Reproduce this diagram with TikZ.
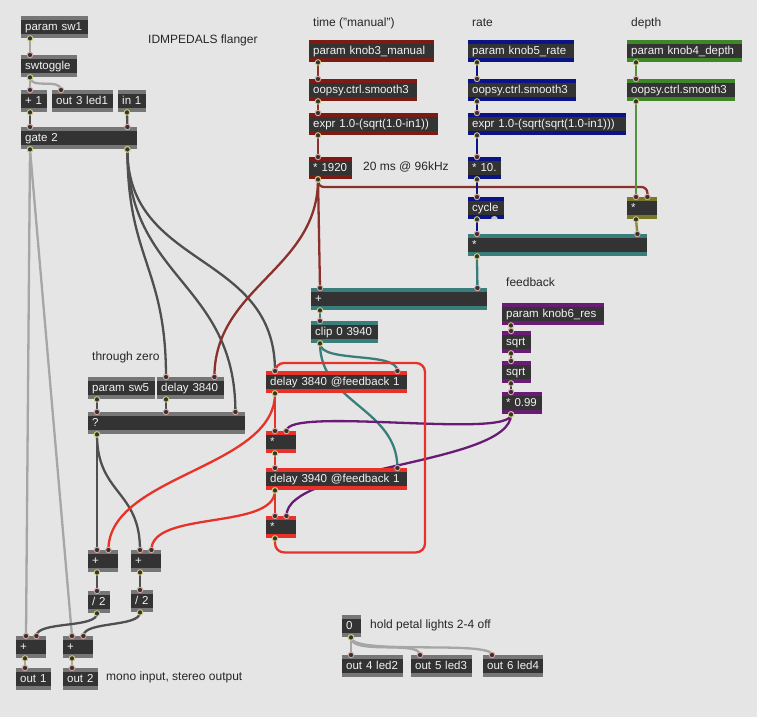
\documentclass[tikz,border=0pt]{standalone}
\usepackage{fontspec}
\setmainfont{Liberation Sans}
\usetikzlibrary{calc}
\definecolor{patchbg}{HTML}{E5E5E5}
\definecolor{body}{HTML}{333333}
\definecolor{bandgray}{HTML}{767676}
\definecolor{dred}{RGB}{125,26,20}
\definecolor{dblue}{RGB}{10,20,135}
\definecolor{dgreen}{RGB}{62,135,40}
\definecolor{dolive}{RGB}{122,120,36}
\definecolor{dteal}{RGB}{58,126,123}
\definecolor{dpurple}{RGB}{105,27,118}
\definecolor{fbred}{RGB}{230,50,40}
\definecolor{ctlcord}{HTML}{A6A6A6}
\definecolor{sigcord}{HTML}{4F4F4F}
\definecolor{inport}{HTML}{D9A3A0}
\definecolor{outport}{HTML}{CFCB7A}
\definecolor{labc}{HTML}{262626}
\pgfdeclarelayer{bg}
\pgfsetlayers{bg,main}
\newcommand{\objfont}{\fontsize{11.5}{13}\selectfont}
\newcommand{\lblfont}{\fontsize{12}{14}\selectfont}
% patch cord: line under the boxes, port rings on top
\newcommand{\cord}[4][ctl]{%
  \begin{pgfonlayer}{bg}\draw[#1] (#2) #4 (#3);\end{pgfonlayer}
  \node[outp] at (#2) {};
  \node[inp] at (#3) {};}

\begin{document}
\begin{tikzpicture}[x=1pt, y=-1pt,
  obj/.style={anchor=north west, fill=body, text=white!95!black, font=\objfont,
              minimum height=22pt, inner ysep=0pt, inner xsep=4pt, align=left,
              text width=#1pt-8pt, text height=8.5pt, text depth=2.5pt,
              execute at begin node=\hbox to 0pt\bgroup,
              execute at end node=\hss\egroup},
  band/.style={path picture={
      \fill[#1] (path picture bounding box.north west) rectangle
                ([yshift=-4pt]path picture bounding box.north east);
      \fill[#1] (path picture bounding box.south west) rectangle
                ([yshift=4pt]path picture bounding box.south east);}},
  gobj/.style={obj=#1, band=bandgray},
  robj/.style={obj=#1, band=dred},
  bobj/.style={obj=#1, band=dblue},
  grobj/.style={obj=#1, band=dgreen},
  oobj/.style={obj=#1, band=dolive},
  tobj/.style={obj=#1, band=dteal},
  pobj/.style={obj=#1, band=dpurple},
  fobj/.style={obj=#1, band=fbred},
  lbl/.style={anchor=west, text=labc, font=\lblfont, inner sep=0pt},
  ctl/.style={draw=ctlcord, line width=2.3pt},
  sig/.style={draw=sigcord, line width=2.3pt},
  rc/.style={draw=dred!90!white, line width=2.3pt},
  bc/.style={draw=dblue, line width=2.3pt},
  gc/.style={draw=dgreen!90!white, line width=2.3pt},
  oc/.style={draw=dolive!90!white, line width=2.3pt},
  tc/.style={draw=dteal, line width=2.3pt},
  pc/.style={draw=dpurple, line width=2.3pt},
  fc/.style={draw=fbred, line width=2.3pt},
  inp/.style={circle, draw=inport, fill=body, line width=0.9pt,
              minimum size=5.5pt, inner sep=0pt},
  outp/.style={inp, draw=outport},
]
\useasboundingbox (0,0) rectangle (757,717);
\begin{pgfonlayer}{bg}
  \fill[patchbg] (0,0) rectangle (757,717);
\end{pgfonlayer}

% comments
\node[lbl] (title) at (148,40)  {IDMPEDALS flanger};
\node[lbl] (ltime) at (313,23)  {time ("manual")};
\node[lbl] (lrate) at (472,23)  {rate};
\node[lbl] (ldep)  at (631,23)  {depth};
\node[lbl] (lms)   at (363,167) {20 ms @ 96kHz};
\node[lbl] (lfb)   at (506,282) {feedback};
\node[lbl] (ltz)   at (92,357)  {through zero};
\node[lbl] (lout)  at (106,677) {mono input, stereo output};
\node[lbl] (lhold) at (370,625) {hold petal lights 2-4 off};

% input and switch
\node[gobj=67]  (sw1)  at (21,16)  {param sw1};
\node[gobj=56]  (tog)  at (21,55)  {swtoggle};
\node[gobj=26]  (inc)  at (21,90)  {+ 1};
\node[gobj=61]  (led1) at (52,90)  {out 3 led1};
\node[gobj=28]  (in1)  at (118,90) {in 1};
\node[gobj=116] (gate) at (21,127) {gate 2};

% through zero
\node[gobj=67]  (sw5)  at (88,377)  {param sw5};
\node[gobj=67]  (dl)   at (157,377) {delay 3840};
\node[gobj=157] (qq)   at (88,412)  {?};
\node[gobj=30]  (addA) at (88,550)  {+};
\node[gobj=30]  (addB) at (131,550) {+};
\node[gobj=22]  (divA) at (88,591)  {/ 2};
\node[gobj=22]  (divB) at (131,590) {/ 2};
\node[gobj=30]  (addC) at (16,636)  {+};
\node[gobj=30]  (addD) at (63,636)  {+};
\node[gobj=35]  (out1) at (16,668)  {out 1};
\node[gobj=35]  (out2) at (63,668)  {out 2};

% petal lights
\node[gobj=19] (zero) at (342,615) {0};
\node[gobj=61] (led2) at (342,655) {out 4 led2};
\node[gobj=61] (led3) at (411,655) {out 5 led3};
\node[gobj=60] (led4) at (483,655) {out 6 led4};

% manual
\node[robj=125] (k3) at (309,40)  {param knob3\_manual};
\node[robj=108] (s3) at (309,79)  {oopsy.ctrl.smooth3};
\node[robj=129] (e3) at (309,113) {expr 1.0-(sqrt(1.0-in1))};
\node[robj=43]  (m3) at (309,157) {* 1920};

% rate
\node[bobj=106] (k5)  at (468,40)  {param knob5\_rate};
\node[bobj=108] (s5)  at (468,79)  {oopsy.ctrl.smooth3};
\node[bobj=158] (e5)  at (468,113) {expr 1.0-(sqrt(sqrt(1.0-in1)))};
\node[bobj=33]  (m5)  at (468,157) {* 10.};
\node[bobj=36]  (cyc) at (468,197) {cycle};
\fill[gray!45] ([xshift=-13.5pt]cyc.south east) arc[start angle=180, end angle=0, radius=3.5pt];

% depth
\node[grobj=115] (k4) at (627,40) {param knob4\_depth};
\node[grobj=108] (s4) at (627,79) {oopsy.ctrl.smooth3};
\node[oobj=30]   (mo) at (627,197) {*};

% sum
\node[tobj=179] (mt)   at (468,234) {*};
\node[tobj=176] (at)   at (311,288) {+};
\node[tobj=67]  (clip) at (311,321) {clip 0 3940};

% feedback
\node[pobj=102] (k6)  at (502,303) {param knob6\_res};
\node[pobj=29]  (sq1) at (502,331) {sqrt};
\node[pobj=29]  (sq2) at (502,361) {sqrt};
\node[pobj=40]  (m6)  at (502,392) {* 0.99};

% delay lines
\node[fobj=141] (d1) at (266,371) {delay 3840 @feedback 1};
\node[fobj=30]  (r1) at (266,431) {*};
\node[fobj=141] (d2) at (266,468) {delay 3940 @feedback 1};
\node[fobj=30]  (r2) at (266,516) {*};

% cords
\cord{[xshift=9pt]sw1.south west}{[xshift=9pt]tog.north west}{--}
\cord{[xshift=9pt]tog.south west}{[xshift=9pt]inc.north west}{--}
\cord{[xshift=9pt]tog.south west}{[xshift=9pt]led1.north west}{.. controls +(0,12) and +(0,-12) ..}
\cord[sig]{[xshift=9pt]inc.south west}{[xshift=9pt]gate.north west}{--}
\cord[sig]{[xshift=9pt]in1.south west}{[xshift=-10pt]gate.north east}{--}
\cord{[xshift=9pt]gate.south west}{[xshift=10pt]addC.north west}{--}
\cord{[xshift=9pt]gate.south west}{[xshift=9pt]addD.north west}{--}
\cord[sig]{[xshift=-10pt]gate.south east}{[xshift=9pt]dl.north west}{.. controls +(0,110) and +(0,-110) ..}
\cord[sig]{[xshift=-10pt]gate.south east}{[xshift=-10pt]qq.north east}{.. controls +(0,130) and +(0,-130) ..}
\cord[sig]{[xshift=-10pt]gate.south east}{[xshift=9pt]d1.north west}{.. controls +(0,120) and +(0,-120) ..}
\cord[sig]{[xshift=9pt]sw5.south west}{[xshift=9pt]qq.north west}{--}
\cord[sig]{[xshift=9pt]dl.south west}{[xshift=78pt]qq.north west}{--}
\cord[sig]{[xshift=9pt]qq.south west}{[xshift=9pt]addA.north west}{--}
\cord[sig]{[xshift=9pt]qq.south west}{[xshift=9pt]addB.north west}{.. controls +(0,60) and +(0,-60) ..}
\cord[sig]{[xshift=9pt]addA.south west}{[xshift=9pt]divA.north west}{--}
\cord[sig]{[xshift=9pt]addB.south west}{[xshift=9pt]divB.north west}{--}
\cord[sig]{[xshift=9pt]divA.south west}{[xshift=-10pt]addC.north east}{.. controls +(0,15) and +(0,-15) ..}
\cord[sig]{[xshift=9pt]divB.south west}{[xshift=-10pt]addD.north east}{.. controls +(0,15) and +(0,-15) ..}
\cord{[xshift=9pt]addC.south west}{[xshift=9pt]out1.north west}{--}
\cord{[xshift=9pt]addD.south west}{[xshift=9pt]out2.north west}{--}
\cord{[xshift=9pt]zero.south west}{[xshift=9pt]led2.north west}{--}
\cord{[xshift=9pt]zero.south west}{[xshift=9pt]led3.north west}{.. controls +(0,18) and +(0,-15) ..}
\cord{[xshift=9pt]zero.south west}{[xshift=9pt]led4.north west}{.. controls +(0,18) and +(0,-15) ..}

\foreach \u/\v in {k3/s3,s3/e3,e3/m3}
  \cord[rc]{[xshift=9pt]\u.south west}{[xshift=9pt]\v.north west}{--};
\cord[rc]{[xshift=9pt]m3.south west}{[xshift=9pt]at.north west}{--}
\cord[rc]{[xshift=9pt]m3.south west}{[xshift=-10pt]dl.north east}{.. controls +(0,90) and +(0,-90) ..}
\cord[rc, rounded corners=6pt]{[xshift=9pt]m3.south west}{[xshift=-10pt]mo.north east}{|- ([xshift=-10pt,yshift=10pt]mo.north east) --}

\foreach \u/\v in {k5/s5,s5/e5,e5/m5,m5/cyc,cyc/mt}
  \cord[bc]{[xshift=9pt]\u.south west}{[xshift=9pt]\v.north west}{--};
\foreach \u/\v in {k4/s4,s4/mo}
  \cord[gc]{[xshift=9pt]\u.south west}{[xshift=9pt]\v.north west}{--};
\cord[oc]{[xshift=9pt]mo.south west}{[xshift=-10pt]mt.north east}{--}

\cord[tc]{[xshift=9pt]mt.south west}{[xshift=-10pt]at.north east}{.. controls +(0,12) and +(0,-12) ..}
\cord[tc]{[xshift=9pt]at.south west}{[xshift=9pt]clip.north west}{--}
\cord[tc]{[xshift=9pt]clip.south west}{[xshift=-10pt]d1.north east}{.. controls +(0,20) and +(0,-20) ..}
\cord[tc]{[xshift=9pt]clip.south west}{[xshift=-10pt]d2.north east}{.. controls +(0,60) and +(0,-60) ..}

\foreach \u/\v in {k6/sq1,sq1/sq2,sq2/m6}
  \cord[pc]{[xshift=9pt]\u.south west}{[xshift=9pt]\v.north west}{--};
\cord[pc]{[xshift=9pt]m6.south west}{[xshift=-10pt]r1.north east}{.. controls +(0,25) and +(0,-25) ..}
\cord[pc]{[xshift=9pt]m6.south west}{[xshift=-10pt]r2.north east}{.. controls +(0,50) and +(0,-50) ..}

\foreach \u/\v in {d1/r1,r1/d2,d2/r2}
  \cord[fc]{[xshift=9pt]\u.south west}{[xshift=9pt]\v.north west}{--};
\cord[fc, rounded corners=9pt]{[xshift=9pt]r2.south west}{[xshift=9pt]d1.north west}{-- ++(0,14) -| (425,363) -|}
\cord[fc]{[xshift=9pt]d1.south west}{[xshift=-10pt]addA.north east}{.. controls +(0,75) and +(0,-75) ..}
\cord[fc]{[xshift=9pt]d2.south west}{[xshift=-10pt]addB.north east}{.. controls +(0,40) and +(0,-40) ..}
\end{tikzpicture}
\end{document}
